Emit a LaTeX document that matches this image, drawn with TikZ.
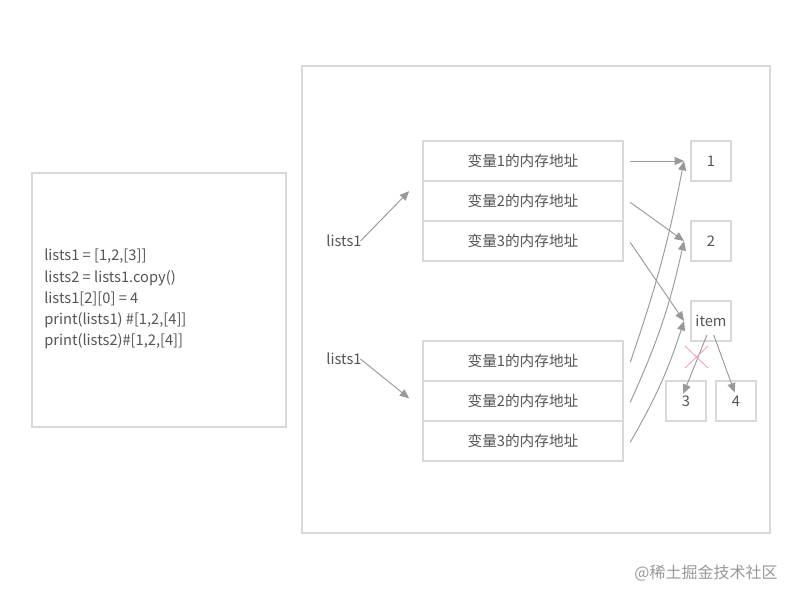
\documentclass[tikz,border=0pt]{standalone}
\usepackage{fontspec}
\setmainfont{Noto Sans CJK SC}
\usetikzlibrary{arrows.meta}
\definecolor{bx}{HTML}{D9D9D9}
\definecolor{tx}{HTML}{555555}
\definecolor{ar}{HTML}{999999}
\definecolor{rd}{HTML}{E8A0B0}
\begin{document}
\begin{tikzpicture}[x=0.75pt,y=-0.75pt,
  box/.style={draw=bx,line width=0.8pt,text=tx,font=\fontsize{11}{13}\selectfont,inner sep=0pt},
  mem/.style={box,minimum width=150pt,minimum height=30pt},
  val/.style={box,minimum width=30pt,minimum height=30pt},
  arr/.style={draw=ar,line width=0.7pt,-{Triangle[length=7pt,width=6pt]}},
  lbl/.style={text=tx,font=\fontsize{11}{13}\selectfont,inner sep=0pt}]
\useasboundingbox (0,0) rectangle (800,600);
\fill[white] (0,0) rectangle (800,600);
\draw[bx,line width=0.8pt] (32,173) rectangle (286,427);
\node[lbl,anchor=north west,align=left,font=\fontsize{11}{15.8}\selectfont] (code) at (44,249) {lists1 = [1,2,[3]]\\lists2 = lists1.copy()\\lists1[2][0] = 4\\print(lists1) \#[1,2,[4]]\\print(lists2)\#[1,2,[4]]};
\draw[bx,line width=0.8pt] (302,66) rectangle (770,533);
\node[mem] (a1) at (523,161) {变量1的内存地址};
\node[mem] (a2) at (523,201) {变量2的内存地址};
\node[mem] (a3) at (523,241) {变量3的内存地址};
\node[mem] (b1) at (523,361) {变量1的内存地址};
\node[mem] (b2) at (523,401) {变量2的内存地址};
\node[mem] (b3) at (523,441) {变量3的内存地址};
\node[val] (v1) at (711,161) {1};
\node[val] (v2) at (711,241) {2};
\node[val] (vi) at (711,321) {item};
\node[val] (v3) at (686,401) {3};
\node[val] (v4) at (736,401) {4};
\node[lbl] (l1) at (344,241) {lists1};
\node[lbl] (l2) at (344,359) {lists1};
\node[lbl,text=ar,font=\fontsize{12}{14}\selectfont] (wm) at (706,573) {@稀土掘金技术社区};
\coordinate (p1) at (684,161); \coordinate (p2) at (684,241); \coordinate (pi) at (684,321);
\draw[arr] ([xshift=-1pt]l1.east) -- ([xshift=-10pt,yshift=-8pt]a2.north west);
\draw[arr] ([xshift=-1pt]l2.east) -- ([xshift=-10pt,yshift=2pt]b2.west);
\draw[arr] ([xshift=5pt]a1.east) -- (p1);
\draw[arr] ([xshift=5pt,yshift=-1pt]a2.east) -- (p2);
\draw[arr] ([xshift=5pt,yshift=-1pt]a3.east) -- (pi);
\draw[arr] ([xshift=5pt,yshift=-1pt]b1.east) to[bend right=4] (p1);
\draw[arr] ([xshift=5pt,yshift=-1pt]b2.east) to[bend right=6] (p2);
\draw[arr] ([xshift=5pt,yshift=-1pt]b3.east) to[bend right=6] (pi);
\draw[arr] ([xshift=-3pt,yshift=5pt]vi.south) -- ([xshift=-2pt,yshift=-10pt]v3.north);
\draw[arr] ([xshift=2pt,yshift=5pt]vi.south) -- ([xshift=-1pt,yshift=-9pt]v4.north);
\draw[rd,line width=0.6pt] (685,346) -- (708,368) (708,346) -- (685,368);
\end{tikzpicture}
\end{document}
